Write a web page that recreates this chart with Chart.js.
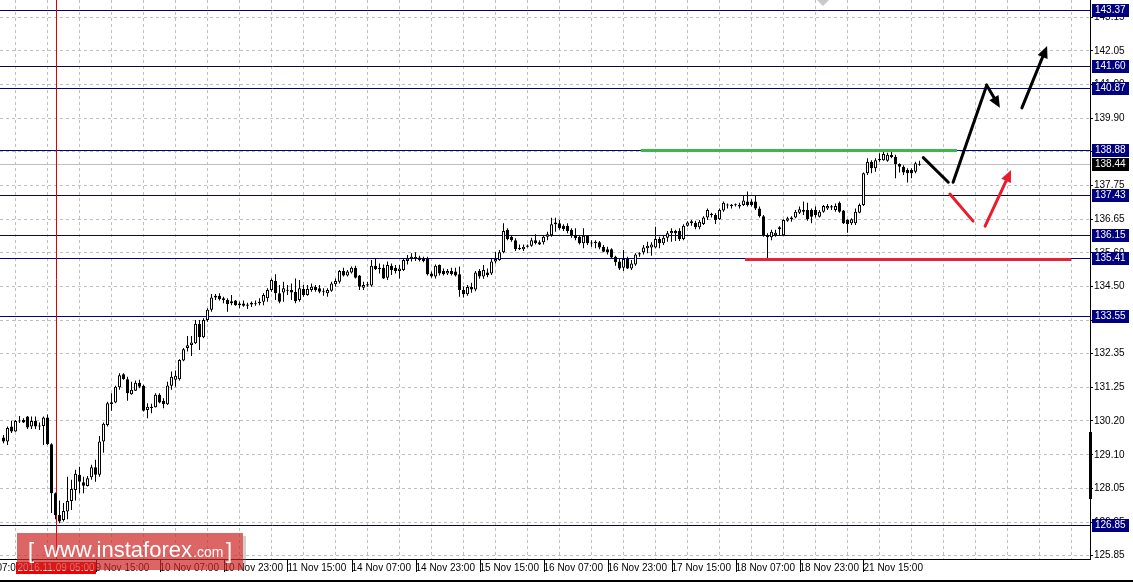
<!DOCTYPE html>
<html>
<head>
<meta charset="utf-8">
<script src="https://cdn.jsdelivr.net/npm/chart.js@4.4.1/dist/chart.umd.min.js"></script>
<style>
html, body { margin: 0; padding: 0; background: #fff; }
#wrap { position: relative; width: 1133px; height: 583px; }
</style>
</head>
<body>
<div id="wrap"><canvas id="chart" width="1133" height="583"></canvas></div>
<script>
// H1 candles
const opens = [129.65,129.52,130.00,129.84,130.18,130.21,130.32,130.00,130.18,130.03,130.02,130.29,129.43,127.86,127.16,127.00,127.27,127.61,127.96,128.45,
128.21,128.09,128.37,128.69,128.45,129.52,130.05,130.72,130.77,131.26,131.68,131.52,131.04,131.15,131.41,131.31,130.53,130.62,130.62,131.02,
130.83,130.72,131.31,131.50,131.52,132.12,132.52,132.62,132.68,133.30,132.87,133.42,133.75,134.15,134.20,134.12,134.07,133.96,134.05,133.90,
133.95,133.88,133.92,133.93,133.96,134.01,134.12,134.39,134.68,134.28,134.31,134.36,134.39,134.33,134.07,134.42,134.23,134.39,134.49,134.44,
134.33,134.28,134.36,134.57,134.65,135.00,134.85,134.95,135.10,134.85,134.46,134.57,134.53,135.17,135.10,135.10,134.78,135.17,135.10,135.00,
135.03,135.32,135.38,135.41,135.43,135.40,135.40,134.92,134.82,135.19,135.00,134.92,135.00,134.98,134.89,134.39,134.25,134.48,134.40,135.00,
134.82,134.95,134.92,135.30,135.35,135.60,136.32,136.10,135.99,135.73,135.70,135.81,135.81,135.99,135.92,135.92,136.10,136.15,136.50,136.53,
136.45,136.45,136.32,136.15,136.10,135.89,136.13,135.91,135.94,135.92,135.78,135.70,135.70,135.46,135.30,135.10,135.38,135.08,135.21,135.53,
135.60,135.73,135.75,135.75,136.03,135.89,136.07,136.21,136.28,136.28,136.03,136.45,136.53,136.55,136.40,136.51,136.72,136.80,136.80,136.66,
136.94,137.12,137.09,137.11,137.12,137.12,137.23,137.23,137.23,137.01,136.76,136.15,136.08,136.15,136.40,136.15,136.61,136.66,136.72,136.87,
136.96,136.96,136.96,136.96,136.74,136.90,137.01,137.07,136.96,137.19,136.94,136.64,136.53,136.53,136.87,137.12,138.14,138.51,138.30,138.56,
138.56,138.54,138.73,138.67,138.44,138.35,138.24,138.24,138.19,138.41];
const highs = [129.73,130.00,130.19,130.21,130.34,130.27,130.34,130.32,130.32,130.13,130.32,130.39,129.46,127.88,127.62,127.54,128.39,128.29,128.61,128.71,
128.39,128.41,128.77,128.93,129.70,130.13,130.80,131.07,131.31,131.71,131.71,131.60,131.44,131.48,131.50,131.34,130.75,130.73,131.07,131.07,
130.91,131.44,131.77,131.80,132.16,132.52,132.91,132.91,133.42,133.42,133.48,133.80,134.26,134.26,134.28,134.17,134.12,134.23,134.07,134.02,
134.05,133.98,134.02,134.05,134.12,134.28,134.44,134.76,134.89,134.55,134.65,134.55,134.60,134.76,134.71,134.55,134.55,134.60,134.55,134.55,
134.44,134.44,134.65,134.76,135.03,135.10,135.03,135.14,135.17,134.87,134.65,134.65,135.35,135.40,135.24,135.21,135.30,135.24,135.19,135.19,
135.40,135.51,135.57,135.60,135.49,135.46,135.46,134.98,135.21,135.21,135.08,135.06,135.10,135.10,135.14,134.50,134.55,134.62,135.00,135.06,
135.19,135.08,135.41,135.62,135.67,136.53,136.37,136.15,136.05,135.85,135.85,135.85,136.07,136.18,135.99,136.15,136.26,136.71,136.71,136.64,
136.50,136.53,136.37,136.37,136.15,136.37,136.15,135.99,135.99,135.96,135.83,135.78,135.73,135.49,135.41,135.67,135.46,135.35,135.57,135.60,
135.83,135.94,135.92,136.42,136.10,136.15,136.28,136.37,136.32,136.37,136.50,136.60,136.64,136.61,136.64,136.76,137.01,136.87,136.85,137.01,
137.23,137.17,137.15,137.17,137.19,137.41,137.55,137.30,137.44,137.07,136.80,136.21,136.32,136.32,136.44,136.66,136.74,136.76,136.96,137.07,
137.23,137.19,137.01,137.07,136.96,137.12,137.15,137.12,137.17,137.23,136.96,136.66,136.69,137.01,137.17,138.16,138.62,138.56,138.62,138.78,
138.83,138.80,138.83,138.73,138.46,138.40,138.30,138.30,138.51,138.54];
const lows = [129.46,129.41,129.79,129.83,130.11,130.11,129.92,129.92,129.92,129.89,129.41,129.41,127.22,127.02,126.89,126.95,127.02,127.32,127.62,127.86,
127.86,128.07,128.29,128.23,128.39,129.16,130.00,130.51,130.75,131.18,131.50,130.83,131.02,131.14,131.23,130.48,130.27,130.43,130.61,130.75,
130.59,130.69,131.18,131.28,131.48,132.10,132.41,132.27,132.65,132.46,132.84,133.37,133.69,134.07,134.05,133.96,133.69,133.90,133.88,133.80,
133.85,133.78,133.84,133.88,133.90,133.90,134.01,134.33,134.07,133.96,134.01,134.23,134.07,133.96,134.01,134.17,134.20,134.33,134.33,134.28,
134.20,134.17,134.33,134.49,134.60,134.82,134.82,134.92,134.76,134.39,134.39,134.49,134.49,135.03,134.92,134.74,134.71,134.87,134.92,134.76,
135.00,135.21,135.30,135.32,135.30,135.28,134.85,134.78,134.76,134.85,134.85,134.87,134.85,134.82,134.17,134.15,134.20,134.30,134.35,134.75,
134.75,134.80,134.87,135.24,135.33,135.57,135.99,135.94,135.64,135.67,135.64,135.75,135.78,135.85,135.83,135.85,135.99,136.10,136.26,136.32,
136.28,136.21,136.07,135.99,135.85,135.73,135.83,135.78,135.73,135.70,135.60,135.53,135.41,135.17,135.03,135.00,135.06,135.03,135.17,135.46,
135.53,135.57,135.49,135.73,135.73,135.83,135.94,135.94,135.96,135.96,135.99,136.42,136.45,136.34,136.34,136.48,136.64,136.72,136.51,136.64,
136.90,137.01,137.01,137.07,137.01,137.09,137.07,137.07,136.96,136.72,136.10,135.40,135.99,136.10,136.15,136.12,136.58,136.58,136.69,136.83,
136.80,136.61,136.53,136.72,136.72,136.87,136.96,136.96,136.90,136.87,136.51,136.23,136.48,136.48,136.85,137.09,138.08,138.14,138.19,138.51,
138.54,138.51,138.62,137.98,138.16,138.08,137.84,137.98,138.14,138.38];
const closes = [129.52,129.95,129.84,130.18,130.16,130.13,129.97,130.18,130.00,130.00,130.29,129.43,127.86,127.16,126.95,127.29,127.61,127.99,128.48,128.23,
128.10,128.34,128.69,128.45,129.52,130.09,130.75,130.78,131.28,131.65,131.52,131.07,131.18,131.41,131.28,130.51,130.64,130.60,131.02,130.77,
130.72,131.32,131.60,131.63,132.14,132.48,132.61,132.70,133.30,132.87,133.42,133.75,134.15,134.20,134.09,134.07,133.94,134.03,133.90,133.95,
133.88,133.92,133.98,133.96,134.01,134.23,134.39,134.71,134.28,134.01,134.44,134.38,134.31,134.03,134.44,134.23,134.42,134.49,134.39,134.33,
134.36,134.39,134.60,134.68,135.00,134.85,134.98,135.10,134.78,134.49,134.55,134.53,135.17,135.06,135.06,134.76,135.19,135.03,135.00,135.08,
135.35,135.40,135.46,135.44,135.35,135.32,134.89,134.82,135.17,134.92,134.89,135.00,134.89,134.85,134.39,134.25,134.48,134.40,134.95,134.82,
135.03,134.87,135.30,135.38,135.60,136.28,136.03,135.99,135.70,135.70,135.78,135.78,135.99,135.89,135.85,136.10,136.18,136.50,136.56,136.37,
136.35,136.28,136.13,136.05,135.89,136.13,135.89,135.88,135.89,135.75,135.62,135.60,135.43,135.28,135.08,135.38,135.08,135.24,135.53,135.57,
135.75,135.81,135.85,136.03,135.89,136.07,136.21,136.28,136.21,136.03,136.45,136.56,136.60,136.40,136.58,136.72,136.96,136.83,136.64,136.96,
137.19,137.10,137.12,137.14,137.07,137.26,137.12,137.12,137.01,136.76,136.15,136.08,136.26,136.23,136.34,136.64,136.69,136.72,136.90,136.98,
136.90,136.66,136.74,136.80,136.90,137.09,137.09,137.04,137.09,136.90,136.53,136.51,136.66,136.90,137.12,138.14,138.51,138.30,138.56,138.59,
138.76,138.73,138.65,138.44,138.35,138.16,138.14,138.14,138.46,138.44];

// 价格刻度
const yTickValues = [125.85,126.93,128.01,129.09,130.18,131.26,132.34,133.42,134.50,135.58,136.66,137.74,138.83,139.91,140.99,142.07,143.15];
const yTickLabels = ['125.85','126.95','128.05','129.10','130.20','131.25','132.35','133.45','134.50','135.60','136.65','137.75','138.80','139.90','141.00','142.05','143.15'];

// 时间刻度 (bar index of each label)
const xLabelIndex = [-9,7,23,39,55,71,87,103,119,135,151,167,183,199,215];
const xTickLabels = ['8 Nov 07:00','8 Nov 23:00','9 Nov 15:00','10 Nov 07:00','10 Nov 23:00','11 Nov 15:00','14 Nov 07:00',
  '14 Nov 23:00','15 Nov 15:00','16 Nov 07:00','16 Nov 23:00','17 Nov 15:00','18 Nov 07:00','18 Nov 23:00','21 Nov 15:00'];

// 水平线
const levelPrices = [143.37, 141.60, 140.87, 138.88, 137.43, 136.15, 135.41, 133.55, 126.85];
const levelColors = ['#000080','#0a0a3c','#000080','#000080','#0a0a3c','#0a0a3c','#000080','#000080','#000080'];
const bidPrice = 138.44;

// 画线 [bar1, price1, bar2, price2, arrowhead]
const greenLine = [159.3, 238.4, 138.88];
const redLine = [185.4, 266.9, 135.37];
const blackArrows = [
  [229.95, 138.64, 236.2, 137.85, false],
  [237.4, 137.85, 245.8, 140.97, false],
  [245.8, 140.97, 249.1, 140.24, true],
  [254.6, 140.24, 260.9, 142.23, true]
];
const redArrows = [
  [236.6, 137.47, 242.4, 136.60, false],
  [245.4, 136.44, 251.9, 138.24, true]
];
const crossBar = 13;
const crossLabel = '2016.11.09 05:00';

const FONT = 'Liberation Sans';

// 蜡烛
const bodyData = opens.map((o, i) => {
  let lo = Math.min(o, closes[i]);
  let hi = Math.max(o, closes[i]);
  if (hi - lo < 0.035) hi = lo + 0.035;
  return { x: i, y: [lo, hi] };
});
const wickData = lows.map((l, i) => ({ x: i, y: [l, highs[i]] }));

// 网格刻度
const xGridTicks = [];
xLabelIndex.forEach(k => { xGridTicks.push(k, k + 8); });
xGridTicks.push(231, 239, 247, 255, 263);

function toPx(chart, k, p) {
  return [chart.scales.x.getPixelForValue(k), chart.scales.y.getPixelForValue(p)];
}

function drawArrow(ctx, x1, y1, x2, y2, color, head) {
  ctx.strokeStyle = color;
  ctx.fillStyle = color;
  ctx.lineWidth = 3;
  ctx.lineCap = 'round';
  const ang = Math.atan2(y2 - y1, x2 - x1);
  const len = 13;
  let ex = x2, ey = y2;
  if (head) {
    ex = x2 - Math.cos(ang) * (len - 2);
    ey = y2 - Math.sin(ang) * (len - 2);
  }
  ctx.beginPath();
  ctx.moveTo(x1, y1);
  ctx.lineTo(ex, ey);
  ctx.stroke();
  if (head) {
    ctx.beginPath();
    ctx.moveTo(x2, y2);
    ctx.lineTo(x2 - Math.cos(ang - 0.42) * len, y2 - Math.sin(ang - 0.42) * len);
    ctx.lineTo(x2 - Math.cos(ang + 0.42) * len, y2 - Math.sin(ang + 0.42) * len);
    ctx.closePath();
    ctx.fill();
  }
}

function axisBox(ctx, y, text, bg) {
  ctx.fillStyle = bg;
  ctx.fillRect(1092, Math.round(y) - 6, 37, 13);
  ctx.fillStyle = '#fff';
  ctx.font = '10px "' + FONT + '"';
  ctx.textAlign = 'left';
  ctx.textBaseline = 'middle';
  ctx.fillText(text, 1095, Math.round(y) + 0.5);
}

const mtPlugin = {
  id: 'mtObjects',
  beforeDatasetsDraw(chart) {
    const { ctx, chartArea: a, scales: { y } } = chart;
    ctx.save();
    // bid line
    let by = Math.round(y.getPixelForValue(bidPrice)) + 0.5;
    ctx.strokeStyle = '#c0c0c0';
    ctx.lineWidth = 1;
    ctx.beginPath(); ctx.moveTo(a.left, by); ctx.lineTo(a.right, by); ctx.stroke();
    levelPrices.forEach((p, i) => {
      const py = Math.round(y.getPixelForValue(p)) + 0.5;
      ctx.strokeStyle = levelColors[i];
      ctx.beginPath(); ctx.moveTo(a.left, py); ctx.lineTo(a.right, py); ctx.stroke();
    });
    // crosshair
    const cx = Math.round(chart.scales.x.getPixelForValue(crossBar)) + 0.5;
    ctx.strokeStyle = '#e00000';
    ctx.beginPath(); ctx.moveTo(cx, a.top); ctx.lineTo(cx, a.bottom); ctx.stroke();
    ctx.restore();
  },
  afterDatasetsDraw(chart) {
    const { ctx } = chart;
    ctx.save();
    // green / red levels
    let [gx1, gy] = toPx(chart, greenLine[0], greenLine[2]);
    let [gx2] = toPx(chart, greenLine[1], greenLine[2]);
    ctx.fillStyle = '#3cb84a';
    ctx.fillRect(gx1, Math.round(gy) - 1, gx2 - gx1, 3);
    let [rx1, ry] = toPx(chart, redLine[0], redLine[2]);
    let [rx2] = toPx(chart, redLine[1], redLine[2]);
    ctx.fillStyle = '#e8213a';
    ctx.fillRect(rx1, Math.round(ry) - 1, rx2 - rx1, 3);
    // arrows
    blackArrows.forEach(s => {
      const [x1, y1] = toPx(chart, s[0], s[1]);
      const [x2, y2] = toPx(chart, s[2], s[3]);
      drawArrow(ctx, x1, y1, x2, y2, '#000', s[4]);
    });
    redArrows.forEach(s => {
      const [x1, y1] = toPx(chart, s[0], s[1]);
      const [x2, y2] = toPx(chart, s[2], s[3]);
      drawArrow(ctx, x1, y1, x2, y2, '#ea1c2c', s[4]);
    });
    ctx.restore();
  },
  afterDraw(chart) {
    const { ctx, chartArea: a, scales: { x, y } } = chart;
    ctx.save();
    // frame
    ctx.strokeStyle = '#000';
    ctx.lineWidth = 1;
    ctx.beginPath();
    ctx.moveTo(a.right + 0.5, 0);
    ctx.lineTo(a.right + 0.5, a.bottom + 0.5);
    ctx.lineTo(0, a.bottom + 0.5);
    ctx.stroke();
    // time tick marks
    xLabelIndex.forEach(k => {
      const px = Math.round(x.getPixelForValue(k)) + 0.5;
      ctx.beginPath(); ctx.moveTo(px, a.bottom); ctx.lineTo(px, a.bottom + 13); ctx.stroke();
    });
    // chart shift marker
    ctx.fillStyle = '#c8c8c8';
    ctx.beginPath(); ctx.moveTo(817, 0); ctx.lineTo(829, 0); ctx.lineTo(823, 6); ctx.closePath(); ctx.fill();
    // scale bar
    ctx.fillStyle = '#000';
    ctx.fillRect(1089, 432, 3, 67);
    // axis boxes
    levelPrices.forEach(p => axisBox(ctx, y.getPixelForValue(p), p.toFixed(2), '#000080'));
    axisBox(ctx, y.getPixelForValue(bidPrice), bidPrice.toFixed(2), '#000');
    // bottom line
    ctx.fillStyle = '#000';
    ctx.fillRect(0, 580, 1133, 2);
    // date box
    const cx = Math.round(x.getPixelForValue(crossBar));
    ctx.fillStyle = '#f00000';
    ctx.fillRect(cx - 40, 562, 80, 12);
    ctx.fillStyle = '#fff';
    ctx.font = '10px "' + FONT + '"';
    ctx.textAlign = 'center';
    ctx.textBaseline = 'middle';
    ctx.fillText(crossLabel, cx, 568.5);
    // watermark
    ctx.fillStyle = 'rgba(205, 35, 35, 0.7)';
    ctx.fillRect(17, 533, 226, 37);
    ctx.fillStyle = 'rgba(120, 120, 120, 0.35)';
    ctx.fillRect(243, 536, 3, 34);
    ctx.fillStyle = '#fff';
    ctx.textAlign = 'left';
    ctx.textBaseline = 'alphabetic';
    ctx.font = '22px "' + FONT + '"';
    ctx.fillText('[', 28, 558);
    ctx.fillText('www.instaforex', 44, 557);
    ctx.font = '14px "' + FONT + '"';
    ctx.fillText('.com', 193, 557);
    ctx.font = '22px "' + FONT + '"';
    ctx.fillText(']', 226, 558);
    ctx.restore();
  }
};

const ctx = document.getElementById('chart').getContext('2d');
new Chart(ctx, {
  type: 'bar',
  data: {
    datasets: [
      {
        label: 'body',
        data: bodyData,
        backgroundColor: opens.map((o, i) => closes[i] >= o ? '#fff' : '#000'),
        borderColor: '#000',
        borderWidth: 1,
        borderSkipped: false,
        barThickness: 3,
        grouped: false,
        inflateAmount: 0
      },
      {
        label: 'wick',
        data: wickData,
        backgroundColor: '#000',
        borderWidth: 0,
        barThickness: 1,
        grouped: false,
        inflateAmount: 0
      }
    ]
  },
  options: {
    responsive: false,
    animation: false,
    devicePixelRatio: 1,
    layout: { padding: 0 },
    plugins: { legend: { display: false }, tooltip: { enabled: false } },
    scales: {
      x: {
        type: 'linear',
        min: -0.875,
        max: 271.625,
        offset: false,
        afterBuildTicks: s => { s.ticks = xGridTicks.map(v => ({ value: v })); },
        afterFit: s => { s.height = 24; s.paddingLeft = 0; s.paddingRight = 0; },
        grid: { color: '#c0c0c0', lineWidth: 1, drawTicks: false },
        border: { display: true, color: '#000', dash: [3, 3] },
        ticks: {
          autoSkip: false, maxRotation: 0, minRotation: 0, align: 'start', padding: 3,
          color: '#000', font: { family: FONT, size: 10 },
          callback: v => { const i = xLabelIndex.indexOf(v); return i >= 0 ? xTickLabels[i] : ''; }
        }
      },
      y: {
        type: 'linear',
        position: 'right',
        min: 125.744,
        max: 143.706,
        afterBuildTicks: s => { s.ticks = yTickValues.map(v => ({ value: v })); },
        afterFit: s => { s.width = 43; s.paddingTop = 0; s.paddingBottom = 0; },
        grid: { color: '#c0c0c0', lineWidth: 1, drawTicks: true, tickLength: 3, tickColor: '#000' },
        border: { display: true, color: '#000', dash: [3, 3] },
        ticks: {
          padding: 1, color: '#000', font: { family: FONT, size: 10 },
          callback: (v, i) => yTickLabels[i]
        }
      }
    }
  },
  plugins: [mtPlugin]
});
</script>
</body>
</html>
